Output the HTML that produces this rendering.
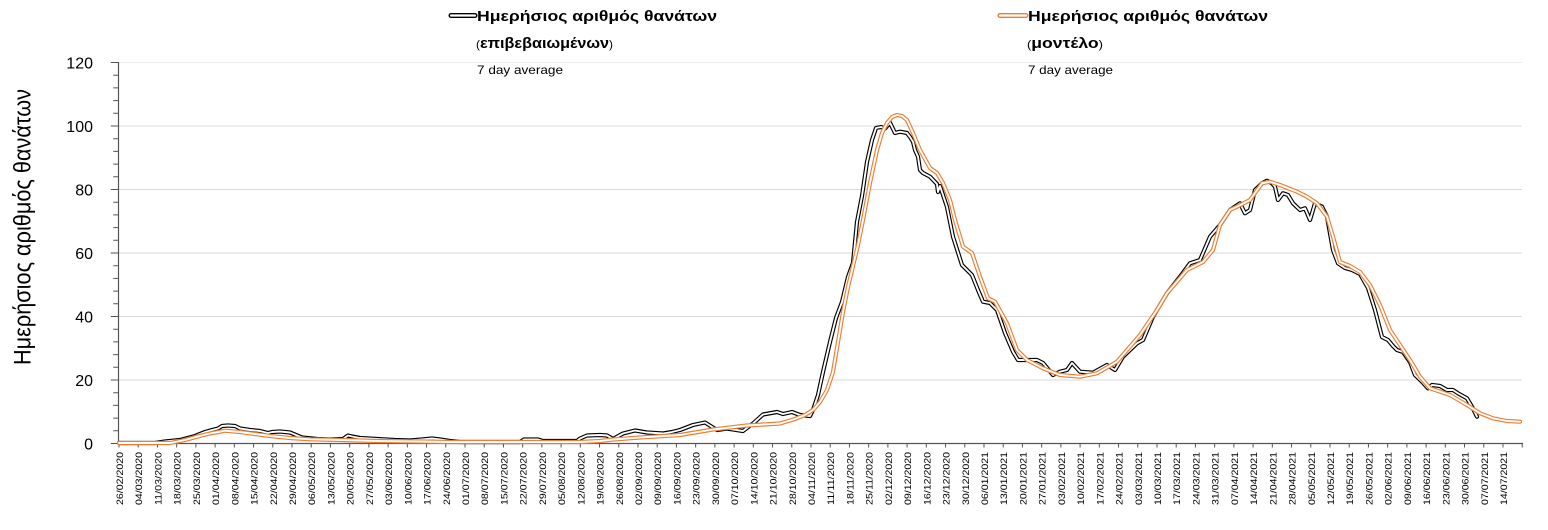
<!DOCTYPE html>
<html><head><meta charset="utf-8"><style>
html,body{margin:0;padding:0;background:#fff;}
svg{display:block;}
text{font-family:"Liberation Sans","DejaVu Sans",sans-serif;fill:#000;}
</style></head><body>
<svg width="1548" height="530" viewBox="0 0 1548 530" xmlns="http://www.w3.org/2000/svg" xmlns:xlink="http://www.w3.org/1999/xlink">
<defs>
<polyline id="blk" points="119,443 155,443 165,441.5 180,440 195,436 205,432 212,430 218,428.5 222,426 228,425.5 235,426 240,428.5 250,430 260,431 268,433 272,432 280,431.5 290,432.5 296,435 302,437.5 317,439 330,439.5 343,439 348,435.5 352,436.5 360,438 377,439 395,440 410,440.5 422,439.5 432,438.5 440,439.5 450,441 460,442 520,442 524,439.5 538,439.5 543,441 577,441 580,438.5 587,435.5 600,435 607,435.5 613,439 623,433.5 635,430.5 647,432.5 663,433.5 672,432 680,430 693,425 705,422.5 717,430 727,428.5 743,431 753,423.5 763,414.5 777,412 783,414 792,412 800,415 810,416 813,410 818,395 823,372 830,342 836,318 842,302 848,277 853,263 857,222 862,196 867,162 872,140 876,128 881,127 885,128.5 890,122.7 895,133 900,131.7 907,133 910,137 913,141.7 915,150 918,156.7 920,170 923,173 930,176.7 937,184 938,192 940,186 947,207 953,236.7 962,265 972,275 978,290 983,301.7 990,303 997,310 1005,333 1013,351.7 1018,360 1027,360 1037,360 1043,363 1053,375 1060,371.7 1067,370 1072,363 1080,371.7 1093,372.7 1107,365 1115,370 1123,356.7 1137,343.3 1143,340 1153,316.7 1167,293.3 1180,276.7 1190,263.3 1200,260 1210,236.7 1220,225 1230,210 1240,203.3 1245,213.3 1250,210 1255,190 1262,183.3 1267,180.7 1272,183.3 1275,186.7 1278,200 1283,193.3 1288,195 1293,203.3 1300,210 1305,208.3 1310,220 1315,203.3 1322,206.7 1327,216.7 1333,250 1338,263.3 1345,268 1352,270 1360,274 1368,288 1375,310 1382,337 1388,340 1393,346 1397,350 1403,352 1410,362 1415,375 1422,381.7 1428,388.3 1432,385 1440,386 1447,390 1453,390 1458,393.3 1467,398.3 1472,406.7 1477,416.7"/>
<polyline id="org" points="119,443 170,443 185,440 197,436.7 210,433.5 220,431.7 225,430.7 240,432 255,434 270,436 290,438 310,439.3 343,440 377,441 420,441.5 450,442 580,442 600,441 613,439.5 640,437.5 680,435 713,429.5 747,425.5 780,423.5 795,419 805,415 813,410 820,402 827,390 833,372 838,342 843,312 848,287 853,266 858,245 863,220 870,183 877,150 882,133 887,123 892,117 897,115 902,116 907,120 913,133 920,150 930,168 937,173 943,183 950,200 955,220 963,246.7 972,253 980,276.7 988,298.3 995,301.7 1007,323.3 1017,350 1027,360 1043,368.3 1060,375 1080,376.7 1097,373.3 1117,361.7 1140,335 1157,310 1167,293.3 1187,270 1203,262 1213,250 1220,225 1230,210 1237,206.7 1250,200 1262,183.3 1270,181.7 1280,185 1297,191.7 1307,196.7 1317,203.3 1327,216.7 1333,236.7 1340,262 1350,266 1360,272 1370,285 1380,305 1390,330 1400,345 1410,360 1420,376.7 1430,388.3 1450,395 1467,405 1480,413.3 1493,418.3 1507,421 1520,421.7"/>
</defs>
<rect width="1548" height="530" fill="#fff"/>
<!-- gridlines -->
<g stroke="#d9d9d9" stroke-width="1">
<line x1="118" y1="62.5" x2="1522" y2="62.5" stroke="#ececec"/>
<line x1="118" y1="126" x2="1522" y2="126"/>
<line x1="118" y1="189.5" x2="1522" y2="189.5"/>
<line x1="118" y1="253" x2="1522" y2="253"/>
<line x1="118" y1="316.5" x2="1522" y2="316.5"/>
<line x1="118" y1="380" x2="1522" y2="380"/>
</g>
<!-- axes -->
<g stroke="#555" fill="none">
<line x1="118.5" y1="62" x2="118.5" y2="444" stroke-width="1.2"/>
<line x1="115.75" y1="444" x2="115.75" y2="61" stroke-width="5" stroke-dasharray="1 11.7"/>
<line x1="114.5" y1="444" x2="114.5" y2="61" stroke-width="7.5" stroke-dasharray="1 62.5"/>
<line x1="118" y1="443.5" x2="1523" y2="443.5" stroke-width="1.2"/>
<line x1="118.5" y1="445.5" x2="1523" y2="445.5" stroke-width="4" stroke-dasharray="1 18.222"/>
</g>
<!-- y labels -->
<g font-size="16" text-anchor="end" fill="#000">
<text x="93" y="449.3">0</text>
<text x="93" y="385.8">20</text>
<text x="93" y="322.3">40</text>
<text x="93" y="258.8">60</text>
<text x="93" y="195.3">80</text>
<text x="93" y="131.8">100</text>
<text x="93" y="68.3">120</text>
</g>
<text transform="translate(30.5,227) rotate(-90)" font-size="24" text-anchor="middle" textLength="276" lengthAdjust="spacingAndGlyphs">Ημερήσιος αριθμός θανάτων</text>
<!-- x labels -->
<g font-size="9" text-anchor="end">
<text transform="translate(123.0,452) rotate(-90)" textLength="53" lengthAdjust="spacingAndGlyphs">26/02/2020</text>
<text transform="translate(142.2,452) rotate(-90)" textLength="53" lengthAdjust="spacingAndGlyphs">04/03/2020</text>
<text transform="translate(161.4,452) rotate(-90)" textLength="53" lengthAdjust="spacingAndGlyphs">11/03/2020</text>
<text transform="translate(180.7,452) rotate(-90)" textLength="53" lengthAdjust="spacingAndGlyphs">18/03/2020</text>
<text transform="translate(199.9,452) rotate(-90)" textLength="53" lengthAdjust="spacingAndGlyphs">25/03/2020</text>
<text transform="translate(219.1,452) rotate(-90)" textLength="53" lengthAdjust="spacingAndGlyphs">01/04/2020</text>
<text transform="translate(238.3,452) rotate(-90)" textLength="53" lengthAdjust="spacingAndGlyphs">08/04/2020</text>
<text transform="translate(257.6,452) rotate(-90)" textLength="53" lengthAdjust="spacingAndGlyphs">15/04/2020</text>
<text transform="translate(276.8,452) rotate(-90)" textLength="53" lengthAdjust="spacingAndGlyphs">22/04/2020</text>
<text transform="translate(296.0,452) rotate(-90)" textLength="53" lengthAdjust="spacingAndGlyphs">29/04/2020</text>
<text transform="translate(315.2,452) rotate(-90)" textLength="53" lengthAdjust="spacingAndGlyphs">06/05/2020</text>
<text transform="translate(334.4,452) rotate(-90)" textLength="53" lengthAdjust="spacingAndGlyphs">13/05/2020</text>
<text transform="translate(353.7,452) rotate(-90)" textLength="53" lengthAdjust="spacingAndGlyphs">20/05/2020</text>
<text transform="translate(372.9,452) rotate(-90)" textLength="53" lengthAdjust="spacingAndGlyphs">27/05/2020</text>
<text transform="translate(392.1,452) rotate(-90)" textLength="53" lengthAdjust="spacingAndGlyphs">03/06/2020</text>
<text transform="translate(411.3,452) rotate(-90)" textLength="53" lengthAdjust="spacingAndGlyphs">10/06/2020</text>
<text transform="translate(430.6,452) rotate(-90)" textLength="53" lengthAdjust="spacingAndGlyphs">17/06/2020</text>
<text transform="translate(449.8,452) rotate(-90)" textLength="53" lengthAdjust="spacingAndGlyphs">24/06/2020</text>
<text transform="translate(469.0,452) rotate(-90)" textLength="53" lengthAdjust="spacingAndGlyphs">01/07/2020</text>
<text transform="translate(488.2,452) rotate(-90)" textLength="53" lengthAdjust="spacingAndGlyphs">08/07/2020</text>
<text transform="translate(507.4,452) rotate(-90)" textLength="53" lengthAdjust="spacingAndGlyphs">15/07/2020</text>
<text transform="translate(526.7,452) rotate(-90)" textLength="53" lengthAdjust="spacingAndGlyphs">22/07/2020</text>
<text transform="translate(545.9,452) rotate(-90)" textLength="53" lengthAdjust="spacingAndGlyphs">29/07/2020</text>
<text transform="translate(565.1,452) rotate(-90)" textLength="53" lengthAdjust="spacingAndGlyphs">05/08/2020</text>
<text transform="translate(584.3,452) rotate(-90)" textLength="53" lengthAdjust="spacingAndGlyphs">12/08/2020</text>
<text transform="translate(603.6,452) rotate(-90)" textLength="53" lengthAdjust="spacingAndGlyphs">19/08/2020</text>
<text transform="translate(622.8,452) rotate(-90)" textLength="53" lengthAdjust="spacingAndGlyphs">26/08/2020</text>
<text transform="translate(642.0,452) rotate(-90)" textLength="53" lengthAdjust="spacingAndGlyphs">02/09/2020</text>
<text transform="translate(661.2,452) rotate(-90)" textLength="53" lengthAdjust="spacingAndGlyphs">09/09/2020</text>
<text transform="translate(680.4,452) rotate(-90)" textLength="53" lengthAdjust="spacingAndGlyphs">16/09/2020</text>
<text transform="translate(699.7,452) rotate(-90)" textLength="53" lengthAdjust="spacingAndGlyphs">23/09/2020</text>
<text transform="translate(718.9,452) rotate(-90)" textLength="53" lengthAdjust="spacingAndGlyphs">30/09/2020</text>
<text transform="translate(738.1,452) rotate(-90)" textLength="53" lengthAdjust="spacingAndGlyphs">07/10/2020</text>
<text transform="translate(757.3,452) rotate(-90)" textLength="53" lengthAdjust="spacingAndGlyphs">14/10/2020</text>
<text transform="translate(776.5,452) rotate(-90)" textLength="53" lengthAdjust="spacingAndGlyphs">21/10/2020</text>
<text transform="translate(795.8,452) rotate(-90)" textLength="53" lengthAdjust="spacingAndGlyphs">28/10/2020</text>
<text transform="translate(815.0,452) rotate(-90)" textLength="53" lengthAdjust="spacingAndGlyphs">04/11/2020</text>
<text transform="translate(834.2,452) rotate(-90)" textLength="53" lengthAdjust="spacingAndGlyphs">11/11/2020</text>
<text transform="translate(853.4,452) rotate(-90)" textLength="53" lengthAdjust="spacingAndGlyphs">18/11/2020</text>
<text transform="translate(872.7,452) rotate(-90)" textLength="53" lengthAdjust="spacingAndGlyphs">25/11/2020</text>
<text transform="translate(891.9,452) rotate(-90)" textLength="53" lengthAdjust="spacingAndGlyphs">02/12/2020</text>
<text transform="translate(911.1,452) rotate(-90)" textLength="53" lengthAdjust="spacingAndGlyphs">09/12/2020</text>
<text transform="translate(930.3,452) rotate(-90)" textLength="53" lengthAdjust="spacingAndGlyphs">16/12/2020</text>
<text transform="translate(949.5,452) rotate(-90)" textLength="53" lengthAdjust="spacingAndGlyphs">23/12/2020</text>
<text transform="translate(968.8,452) rotate(-90)" textLength="53" lengthAdjust="spacingAndGlyphs">30/12/2020</text>
<text transform="translate(988.0,452) rotate(-90)" textLength="53" lengthAdjust="spacingAndGlyphs">06/01/2021</text>
<text transform="translate(1007.2,452) rotate(-90)" textLength="53" lengthAdjust="spacingAndGlyphs">13/01/2021</text>
<text transform="translate(1026.4,452) rotate(-90)" textLength="53" lengthAdjust="spacingAndGlyphs">20/01/2021</text>
<text transform="translate(1045.7,452) rotate(-90)" textLength="53" lengthAdjust="spacingAndGlyphs">27/01/2021</text>
<text transform="translate(1064.9,452) rotate(-90)" textLength="53" lengthAdjust="spacingAndGlyphs">03/02/2021</text>
<text transform="translate(1084.1,452) rotate(-90)" textLength="53" lengthAdjust="spacingAndGlyphs">10/02/2021</text>
<text transform="translate(1103.3,452) rotate(-90)" textLength="53" lengthAdjust="spacingAndGlyphs">17/02/2021</text>
<text transform="translate(1122.5,452) rotate(-90)" textLength="53" lengthAdjust="spacingAndGlyphs">24/02/2021</text>
<text transform="translate(1141.8,452) rotate(-90)" textLength="53" lengthAdjust="spacingAndGlyphs">03/03/2021</text>
<text transform="translate(1161.0,452) rotate(-90)" textLength="53" lengthAdjust="spacingAndGlyphs">10/03/2021</text>
<text transform="translate(1180.2,452) rotate(-90)" textLength="53" lengthAdjust="spacingAndGlyphs">17/03/2021</text>
<text transform="translate(1199.4,452) rotate(-90)" textLength="53" lengthAdjust="spacingAndGlyphs">24/03/2021</text>
<text transform="translate(1218.7,452) rotate(-90)" textLength="53" lengthAdjust="spacingAndGlyphs">31/03/2021</text>
<text transform="translate(1237.9,452) rotate(-90)" textLength="53" lengthAdjust="spacingAndGlyphs">07/04/2021</text>
<text transform="translate(1257.1,452) rotate(-90)" textLength="53" lengthAdjust="spacingAndGlyphs">14/04/2021</text>
<text transform="translate(1276.3,452) rotate(-90)" textLength="53" lengthAdjust="spacingAndGlyphs">21/04/2021</text>
<text transform="translate(1295.5,452) rotate(-90)" textLength="53" lengthAdjust="spacingAndGlyphs">28/04/2021</text>
<text transform="translate(1314.8,452) rotate(-90)" textLength="53" lengthAdjust="spacingAndGlyphs">05/05/2021</text>
<text transform="translate(1334.0,452) rotate(-90)" textLength="53" lengthAdjust="spacingAndGlyphs">12/05/2021</text>
<text transform="translate(1353.2,452) rotate(-90)" textLength="53" lengthAdjust="spacingAndGlyphs">19/05/2021</text>
<text transform="translate(1372.4,452) rotate(-90)" textLength="53" lengthAdjust="spacingAndGlyphs">26/05/2021</text>
<text transform="translate(1391.7,452) rotate(-90)" textLength="53" lengthAdjust="spacingAndGlyphs">02/06/2021</text>
<text transform="translate(1410.9,452) rotate(-90)" textLength="53" lengthAdjust="spacingAndGlyphs">09/06/2021</text>
<text transform="translate(1430.1,452) rotate(-90)" textLength="53" lengthAdjust="spacingAndGlyphs">16/06/2021</text>
<text transform="translate(1449.3,452) rotate(-90)" textLength="53" lengthAdjust="spacingAndGlyphs">23/06/2021</text>
<text transform="translate(1468.5,452) rotate(-90)" textLength="53" lengthAdjust="spacingAndGlyphs">30/06/2021</text>
<text transform="translate(1487.8,452) rotate(-90)" textLength="53" lengthAdjust="spacingAndGlyphs">07/07/2021</text>
<text transform="translate(1507.0,452) rotate(-90)" textLength="53" lengthAdjust="spacingAndGlyphs">14/07/2021</text>
</g>
<!-- series -->
<g fill="none" stroke-linejoin="round" stroke-linecap="round">
<use href="#blk" xlink:href="#blk" stroke="#000" stroke-width="4.2"/>
<use href="#blk" xlink:href="#blk" stroke="#fff" stroke-width="1.9"/>
<use href="#org" xlink:href="#org" stroke="#ed7d31" stroke-width="4.2"/>
<use href="#org" xlink:href="#org" stroke="#fff" stroke-width="1.9"/>
</g>
<!-- legend -->
<g stroke-linecap="round">
<line x1="451" y1="15.5" x2="475" y2="15.5" stroke="#000" stroke-width="5"/>
<line x1="451" y1="15.5" x2="475" y2="15.5" stroke="#fff" stroke-width="2.2"/>
<line x1="1000" y1="15.5" x2="1026" y2="15.5" stroke="#ed7d31" stroke-width="5"/>
<line x1="1000" y1="15.5" x2="1026" y2="15.5" stroke="#fff" stroke-width="2.2"/>
</g>
<text x="477" y="21" font-size="15" font-weight="bold" textLength="240" lengthAdjust="spacingAndGlyphs">Ημερήσιος αριθμός θανάτων</text>
<text x="476" y="48" font-size="15" font-weight="bold" textLength="137" lengthAdjust="spacingAndGlyphs"><tspan font-size="11" font-weight="normal">(</tspan>επιβεβαιωμένων<tspan font-size="11" font-weight="normal">)</tspan></text>
<text x="477" y="74" font-size="12" textLength="86" lengthAdjust="spacingAndGlyphs">7 day average</text>
<text x="1028" y="21" font-size="15" font-weight="bold" textLength="240" lengthAdjust="spacingAndGlyphs">Ημερήσιος αριθμός θανάτων</text>
<text x="1027" y="48" font-size="15" font-weight="bold" textLength="76" lengthAdjust="spacingAndGlyphs"><tspan font-size="11" font-weight="normal">(</tspan>μοντέλο<tspan font-size="11" font-weight="normal">)</tspan></text>
<text x="1028" y="74" font-size="12" textLength="85" lengthAdjust="spacingAndGlyphs">7 day average</text>
</svg>
</body></html>
